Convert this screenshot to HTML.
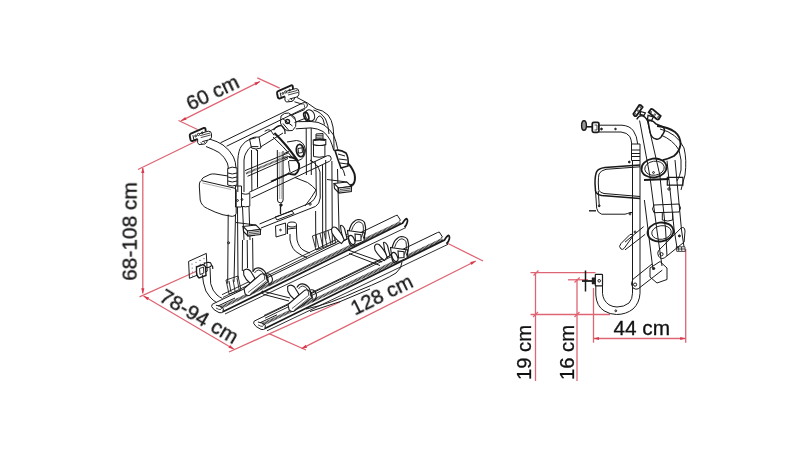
<!DOCTYPE html>
<html><head><meta charset="utf-8"><style>
html,body{margin:0;padding:0;background:#fff;}
svg{display:block;}
text{font-family:"Liberation Sans",sans-serif;font-size:20px;fill:#111;stroke:#111;stroke-width:0.3;}
.r{stroke:#de6573;stroke-width:1.3;fill:none;}
.ra{fill:#d83a4c;stroke:none;}
.k{stroke:#1a1a1a;stroke-width:1;fill:none;}
</style></head><body>
<svg width="800" height="450" viewBox="0 0 800 450">
<g id="dims">
<line class="r" x1="178.5" y1="120.5" x2="197.5" y2="129.5"/>
<line class="r" x1="257.3" y1="77.8" x2="279.7" y2="88.2"/>
<line class="r" x1="181" y1="120.8" x2="260" y2="81.5"/>
<path class="ra" d="M181.0,120.8 L185.2,116.9 L186.6,119.8 Z"/>
<path class="ra" d="M260.0,81.5 L255.8,85.4 L254.4,82.5 Z"/>
<line class="r" x1="142.8" y1="168" x2="142.8" y2="293.5"/>
<line class="r" x1="138" y1="169.5" x2="196.5" y2="141"/>
<line class="r" x1="139.5" y1="296.8" x2="197" y2="271"/>
<path class="ra" d="M142.8,167.5 L144.4,173.0 L141.2,173.0 Z"/>
<path class="ra" d="M142.8,293.8 L141.2,288.3 L144.4,288.3 Z"/>
<line class="r" x1="143.5" y1="296" x2="234" y2="349.2"/>
<path class="ra" d="M143.5,296.0 L149.1,297.4 L147.4,300.2 Z"/>
<path class="ra" d="M234.0,349.2 L228.4,347.8 L230.1,345.0 Z"/>
<line class="r" x1="229" y1="352" x2="340" y2="302"/>
<line class="r" x1="269" y1="333.7" x2="306" y2="350"/>
<line class="r" x1="447" y1="243" x2="483" y2="261"/>
<line class="r" x1="301.5" y1="348.7" x2="475.8" y2="261"/>
<path class="ra" d="M301.5,348.7 L305.7,344.8 L307.1,347.7 Z"/>
<path class="ra" d="M475.8,261.0 L471.6,264.9 L470.2,262.0 Z"/>
<line class="r" x1="530.5" y1="272.7" x2="595.5" y2="272.7"/>
<line class="r" x1="568" y1="279.8" x2="588" y2="279.8"/>
<line class="r" x1="530.5" y1="314.5" x2="610" y2="314.5"/>
<line class="r" x1="535.5" y1="272" x2="535.5" y2="381"/>
<line class="r" x1="577" y1="279" x2="577" y2="381"/>
<line class="r" x1="593.5" y1="288" x2="593.5" y2="342.7"/>
<line class="r" x1="685.7" y1="249" x2="685.7" y2="342.7"/>
<line class="r" x1="593.5" y1="338.5" x2="685.7" y2="338.5"/>
<path class="ra" d="M593.5,338.5 L599.0,336.9 L599.0,340.1 Z"/>
<path class="ra" d="M685.7,338.5 L680.2,340.1 L680.2,336.9 Z"/>
<line class="r" x1="533.5" y1="275.5" x2="538.5" y2="270.5"/>
<line class="r" x1="574.5" y1="282.5" x2="579.7" y2="277.5"/>
<line class="r" x1="533" y1="317" x2="538" y2="312"/>
<line class="r" x1="574.5" y1="317" x2="579.5" y2="312"/>
</g>
<g id="left" class="k">
<!-- plates & clamps (right, and left via translate) -->
<g id="brk">
<path d="M277.6,91.3 L291.2,85.4 Q292.6,85 292.8,86.6 L293,89 M277.6,91.3 Q276.9,92 277.1,93.5 L277.9,97.4 Q278.4,98.8 280.2,98.3 L285,96.4" style="stroke-width:1.9"/>
<path d="M280.2,92.6 L281.3,97.6"/>
<circle cx="282.9" cy="93.4" r="0.9"/><circle cx="285.7" cy="91.9" r="1.1"/><circle cx="289.6" cy="90.1" r="0.8"/>
<path d="M286.6,91.2 L295.6,88.6 Q298.6,88.4 298.8,91.2 L298.8,94.6 Q298.4,96.6 296,97.3 L289.5,99" />
<path d="M287.5,93 L297.5,90.4 M288,95 L298,92.4" style="stroke-width:0.8"/>
<path d="M285,96.6 Q284.2,100.8 286.3,102 L292,101.4 Q294.6,100.2 294.6,97.6"/>
<path d="M288,99.5 L289.5,101.6 M291,98.8 L292.5,100.8" style="stroke-width:0.8"/>
</g>
<use href="#brk" transform="translate(-87.3,42.6)"/>
<!-- left arm -->
<path d="M209.5,139 Q218,141.5 223,145 Q230,150 233.5,157 Q235.8,162 236,168"/>
<path d="M206,146.5 Q214,149.5 219,152.5 Q225,157 227.3,163 Q228.3,166 228.3,169"/>
<!-- top crossbar -->
<path d="M220.5,142.8 L303,102.8 Q307,101.8 307.4,105 Q307.6,107 305.6,107.8 L226.6,146.2"/>
<path d="M303.2,103.5 Q305,105 304.6,107.5" style="stroke-width:0.8"/>
<!-- right arm / outer arc -->
<path d="M297,97.5 Q308,102.5 316,109 Q323,110 328,115 Q332,120 333,127 Q334,134 334,151"/>
<path d="M313.5,110 Q321,112 325.5,119 Q328.5,125 329,134"/>
<path d="M294.5,101.8 Q300,103.5 302.5,104.2"/>
<!-- short bar clamp to cylinder -->
<path d="M292,115 L304.7,109.5 M294.5,122.5 L306,118"/>
<ellipse cx="310" cy="115.4" rx="4.4" ry="5.8" transform="rotate(-28 310 115.4)"/>
<ellipse cx="306.3" cy="116.2" rx="2.2" ry="4.2" transform="rotate(-20 306.3 116.2)" style="stroke-width:1.7"/>
<path d="M315.5,121.5 Q317.5,115.5 320.5,116 Q323.5,118 324.5,124.5"/>
<!-- inner big U-tube -->
<path d="M295.8,121.7 L311,121.5 Q318.5,121.5 324,125 Q330,129 333.5,135 Q336.5,142 337.5,148.3 L338.3,151"/>
<path d="M295.8,128.8 L311,127.9 Q318,128.5 323,131.5 Q327.5,135 330.2,140.1 Q332.3,145 333.6,150"/>
<path d="M335,150.5 Q340,149 346,153 Q349,158 348,166 L341,168 Q338,160 335,150.5 Z" style="stroke-width:1.6"/>
<path d="M338,154 L345,156 M339,159 L347,160 M340,163 L347.5,164"/>
<path d="M347.5,163 Q352,167 354.5,174 Q356,181 353,184.5 Q350,186 346.5,185.5" style="stroke-width:2"/>
<path d="M341,167 Q344,170 345,176" style="stroke-width:1"/>
<!-- clamp on second bar -->
<path d="M281,116 Q284,112.5 288.5,113 L294.5,117 Q296.8,121.5 295.6,126.5 L292.5,130.5 Q287.5,131.8 283.5,128.8 L280.5,123 Z"/>
<path d="M282.5,118.5 L292.5,126 M283,123.5 L288.5,130 M289.5,114 L295,119.5"/>
<circle cx="287.5" cy="121.5" r="2" style="stroke-width:1.4"/>
<!-- vertical middle tube -->
<path d="M306.2,128 L306.4,175 M311.2,128 L311.3,175"/>
<!-- threaded collar -->
<path d="M316,134 L323,133.5 L323,139 M316,134 L316,139.2" style="stroke-width:1"/>
<path d="M316.2,135.5 L322.8,135.2 M316.2,137.2 L322.8,137" style="stroke-width:0.8"/>
<path d="M313.3,140 Q319.5,138 325.8,139.6 L325.8,144.6 Q319.5,146.5 313.3,144.6 Z" style="stroke-width:1.1"/>
<path d="M314,140.2 Q319.5,139 325,140.3" style="stroke-width:1.6"/>
<path d="M313.5,144.8 L313.5,156.5 Q319,158 324.9,156.5 L324.9,144.8"/>
<!-- left inverted U tube -->
<path d="M237.8,192 L237.8,160 Q238.5,150 241.5,146 Q245,141 249.6,139.4 L256,137.7"/>
<path d="M244,192 L244,160 Q244.5,155 246,153 Q248.5,148 251.3,146.6 L258.4,146.6"/>
<path d="M249.5,139 Q254,136.5 259,137 L261,148 Q256,150 251.5,148 Z"/>
<path d="M256,149 L257,151 M251.5,150 L251.9,191 M257.5,150 L257.5,187.5"/>
<!-- second bar -->
<path d="M259,137 L281,125 M260.5,147 L283,133"/>
<!-- left post collar and tube -->
<path d="M241.5,193.5 Q245.5,195 249.8,193.5 L249.8,206.2 Q245.5,207.5 241.5,206.2 Z"/>
<path d="M242.5,207 L244,240 M249,207 L250,240"/>
<!-- hatched middle bar -->
<path d="M245,170.6 L288,153 M247.5,176.3 L288,158.5" />
<path d="M246,173.5 L288,156" style="stroke-width:2;stroke:#333;stroke-dasharray:0.8 0.5"/>
<path d="M284,153.5 L289,151.5 M284,158.5 L289,156.5"/>
<!-- hanging rod -->
<path d="M277.3,150 L277.5,200 A2.8,2.8 0 0 0 283.1,200 L283,151"/>
<path d="M279.2,152 L279.4,199 M281.2,152 L281.3,199" style="stroke-width:0.6;stroke:#777"/>
<path d="M280.5,204 L280.5,214" style="stroke-width:1.3"/>
<circle cx="281" cy="205" r="1.2" style="fill:#222"/>
<!-- strap buckle -->
<path d="M273.5,130 Q277.5,124.5 282,126 Q285.5,128.5 285,134" style="stroke-width:1.3"/>
<path d="M274.4,133 Q286,144 297.6,160.6" style="stroke-width:2.2"/>
<path d="M273,137 Q283,146 292,157"/>
<path d="M289,157 Q296,157 299,164 Q300,171 295,174.5 Q291,175 288,173" style="stroke-width:2"/>
<path d="M288.5,161 Q289,168 290,172"/>
<path d="M264.7,131.3 Q268,129 270,130 Q272,132 274,135.3"/>
<!-- lamp cylinder -->
<path d="M287,142 L296.5,140.5 Q304,141 305.5,150 Q305,159 298,160.6 L289,160.6"/>
<ellipse cx="300.2" cy="150.6" rx="3.8" ry="6.2" transform="rotate(-10 300.2 150.6)" style="stroke-width:1.7"/>
<path d="M298,148.5 L302,147.8 L302.5,152.5 L298.5,153.2 Z"/>
<!-- lower crossbar -->
<path d="M248.8,192.5 L327.5,155.6 Q330.8,155 331.2,158.2 Q331.2,160.6 329.5,161.3 L251.3,198.1"/>
<path d="M271,181.5 L289,173.5" style="stroke-width:1.8"/>
<!-- thin strap going down -->
<path d="M295,177.5 Q301,180 307.5,182.5 Q313,186 316,190 Q312,197 305,206"/>
<!-- lower U frame -->
<path d="M310,160 Q318,164 320,172 L320.2,198 Q319.5,204 315.6,206.4 L261,228"/>
<path d="M315,161 Q316,166 316,172 L316.3,195 Q315,200 310,203 L259.5,224"/>
<circle cx="310.1" cy="204.1" r="1.1"/>
<!-- right vertical tubes -->
<path d="M315.6,211 L315.8,247 M322.5,165 L322.7,247 M325.7,160 L325.9,239 M331.9,161 L332.3,243 M337.5,169 L339.3,240"/>
<!-- pad / lamp housing -->
<path d="M200.4,181.3 Q199.2,182.5 199.3,186 L200.2,200 Q201.5,206 207.4,208.5 Q215,212.5 223,214.8 L232.3,216.4 Q235.8,216.2 236.2,213.5 L236.2,190 Q236,187.8 233,187.8 L201.5,180.6 Q200.8,180.7 200.4,181.3"/>
<path d="M201.5,180 Q202.5,177.5 205,176.8 L210,174.4 Q212,173.7 215,174 L228,176"/>
<path d="M202.5,183 L231,189.5" style="stroke:#888;stroke-width:0.7"/>
<!-- collar below left arm -->
<path d="M227.7,168.5 Q232,166 237,168 L237,185 Q232,187 227.7,185 Z M228,173 Q232,175 237,173 M228,177 Q232,179 237,177 M228,181 Q232,183 237,181"/>
<path d="M235.5,186 L241.5,186 L241.5,207 L235.5,207 Z"/>
<circle cx="237.5" cy="200.5" r="0.9"/><circle cx="242" cy="199.5" r="0.9"/>
<!-- left vertical frame lines -->
<path d="M228.2,214.5 L227.7,283.7 M235.5,214.5 L234,282 M237.5,207 L238,278 M242.5,240 L242.3,271 M247.2,240 L247.5,268 M252.6,238 L253,272"/>
<circle cx="228.6" cy="242.8" r="1"/>
<!-- pedal brackets -->
<g id="pedal">
<path d="M334,183.5 L347,182 L351.5,186.5 L338.5,188 Z" style="stroke-width:1.1;fill:#fff"/>
<path d="M338.5,188 L351.5,186.5 L351.3,191.5 L339,193 Z" style="stroke-width:1.2;fill:#fff"/>
<path d="M334,183.5 L334.5,188.5 L339,193" style="stroke-width:1.1"/>
<path d="M340,189.5 L350.5,188.3 M340,191.2 L350.5,190" style="stroke-width:0.8"/>
<path d="M327,179.5 L347,182" style="stroke-width:1"/>
</g>
<use href="#pedal" transform="translate(-91,43)"/>
<!-- small plate + bar tab -->
<path d="M275,217 L292,211 L294,213.5 L277,220 Z"/>
<path d="M275.5,226 L285.5,223 L286,234 L276,237 Z"/>
<circle cx="280.5" cy="230" r="0.8"/>
<ellipse cx="292" cy="224.5" rx="4.5" ry="2.5"/>
<path d="M287.5,224.5 L287.5,234 M296.5,224.5 L296.5,232 M288,229 L296,228" />
<!-- lower J-loop -->
<path d="M290,234 L290,240 Q292,250 298,253 Q302,256 307,257.5"/>
<path d="M296.5,232 L297,240 Q299,248 304,250.5 Q307,252 310,253"/>
<!-- lower left mount plate -->
<path d="M188.6,261.4 L206.3,253.4 L207.2,271.2 L189.4,278.3 Z"/>
<g style="fill:#444;stroke:none">
<circle cx="192" cy="264" r="0.55"/><circle cx="196" cy="262.2" r="0.55"/><circle cx="200" cy="260.4" r="0.55"/><circle cx="204" cy="258.6" r="0.55"/>
<circle cx="192.2" cy="268" r="0.55"/><circle cx="196.2" cy="266.2" r="0.55"/><circle cx="200.2" cy="264.4" r="0.55"/><circle cx="204.2" cy="262.6" r="0.55"/>
<circle cx="192.4" cy="272" r="0.55"/><circle cx="196.4" cy="270.2" r="0.55"/>
<circle cx="192.6" cy="276" r="0.55"/><circle cx="196.6" cy="274.2" r="0.55"/>
</g>
<ellipse cx="207.6" cy="265" rx="3.8" ry="2.5" transform="rotate(-10 207.6 265)" style="stroke-width:1.1"/>
<path d="M196.5,267 L203,264.5 L205.5,266.5 L206,275.5 L199,278 Q196.5,276 196.5,272 Z" style="stroke-width:1.4;fill:#fff"/>
<path d="M199.5,268.5 L203.5,267 L203.8,273 L200,274.5 Z" style="stroke-width:0.9"/>
<path d="M211.5,265 Q213.2,266.5 212.8,269" style="stroke-width:1.2"/>
<!-- J hook -->
<path d="M202.3,274.5 L203.5,283 Q205,292 210,297 Q213,300.5 216.5,302.5"/>
<path d="M210,267.7 L210.7,283.7 Q212.5,291 217,295 Q219.5,297.2 222.5,298.5"/>
<!-- shoe blocks -->
<path d="M226,280 L238,276 L241,290 L229,294 Z M229,281 L231,292 M233,279.5 L235,291 M237,278 L239,289" style="stroke-width:0.9"/>
<path d="M312.4,236 L332,229 L335.8,243 L316,250 Z M316,235 L319,249 M320,233.5 L323,247.5 M324,232 L327,246 M328,230.5 L331,244.5" style="stroke-width:0.9"/>
<!-- under-ski cross bars -->
<path d="M262,291 L290,298 M264,294.5 L289,301 M262,291 Q261,293 264,294.5"/>
<path d="M348,250 L382,262 M349,253.5 L380,265.5"/>
<!-- hull below ski 2 -->
<path d="M306,309 Q330,304 360,290 Q385,280 396,273 Q402,268 402,262"/>
<path d="M310,311.5 Q340,303 370,289"/>
</g>
<g id="skis" class="k">
<g id="ski1">
<path d="M215.1,302.9 L395.6,215.7 L397.3,215.2 L400.4,220.1 L399.1,221.4"/>
<path d="M218,306 L235,298"/>
<path d="M220.6,307.6 L400.5,222.6" style="stroke-width:3;stroke:#2a2a2a;stroke-dasharray:0.9 0.45"/>
<path d="M222.9,311.8 L402.5,223.2 Q405,219 406.6,218.6 Q408,219.5 407.2,222.5 Q406.5,225.5 404.4,227" style="stroke-width:1.7"/>
<path d="M225,314 L406,227.5" style="stroke-width:0.9"/>
<path d="M215.1,302.9 Q211,304 211.6,306.5 Q213,310 219,312.6 Q221.5,313.2 223,312 L223.4,308.6 Q222,306 215.9,305.2"/>
<path d="M216,308 Q219,310 221,309.5" style="stroke-width:0.8"/>
</g>
<use href="#ski1" transform="translate(42,16.8)"/>
<path d="M222,294.7 L352,231.9 M223,297.4 L352,234.6" style="stroke-width:0.9"/>
<path d="M264,315.5 L394,252.7 M265,318.2 L394,255.4" style="stroke-width:0.9"/>
</g>
<g id="cups" class="k">
<g id="cup1">
<path d="M243.6,270.5 Q247,267.5 250.5,271 L255,278.5 L250.5,283.5 Q246,280.5 243.8,275 Z" style="fill:#fff;stroke-width:1.1"/>
<path d="M244,288.5 L260.8,274.2 Q263.5,272.8 266,275.5 L268,281.8 L249.8,295.2 Q246.5,296.2 245,293.5 Z" style="fill:#fff;stroke-width:1.1"/>
<path d="M248,292.5 L264.5,279.5 M250.5,293.8 L266.5,281" style="stroke-width:0.7"/>
<path d="M252.9,271.5 Q255,267.5 258.5,267.8 Q263,268.5 265.3,272.3 Q267.3,276 267,280.4" style="stroke-width:1.2"/>
<path d="M254.5,273 Q256.5,269.8 258.8,270 Q262,270.8 263.5,273.5 Q265,276.5 264.8,279.5" style="stroke-width:0.9"/>
<path d="M266.5,273.8 Q271.2,273.2 272.5,279 Q272.3,283.5 268.5,285.5" style="stroke-width:1.1"/>
<path d="M267.5,276 L269,284" style="stroke-width:0.8"/>
</g>
<use href="#cup1" transform="translate(44,16)"/>
<g id="cup3">
<path d="M331.5,229.5 Q332.5,226 336,227.5 Q340,231 344.5,239.5 L341.5,243.5 Q336,240 332,233 Z" style="fill:#fff;stroke-width:1.1"/>
<path d="M340.5,225.5 Q342.5,224.5 344.5,228.5 L347,238.5 L344.5,240.5 Q341,234 340.5,225.5 Z" style="fill:#fff;stroke-width:1.1"/>
<path d="M347.5,230.5 L365,233 L364,241 L353,246 Q350,246 349,242 Z" style="fill:#fff;stroke-width:1.1"/>
<ellipse cx="351.8" cy="240" rx="2.6" ry="4.8" transform="rotate(-25 351.8 240)" style="stroke-width:1.2"/>
<path d="M355,234 L361,234.8 L361,240.5 L355.5,241 Z" style="stroke-width:1.1"/>
<path d="M349,231 Q351,224 353,222.5 Q356,219.5 358,219.5 Q363,219.8 364.5,222.5 Q366,227 365.5,231 L363.5,238.5" style="stroke-width:1.2"/>
<path d="M351.5,230.5 Q353,226 355,223.8 Q357,221.8 359,221.8 Q362,222.3 363,224.8 Q363.7,228 363.2,232 L361.5,237.5" style="stroke-width:0.9"/>
</g>
<use href="#cup3" transform="translate(43,17)"/>
</g>
<g id="side" class="k">
<!-- knob & rod -->
<ellipse cx="584" cy="125.5" rx="2.4" ry="4.8" style="fill:#999;stroke-width:1.4"/>
<path d="M586.5,126.8 L592.5,126.8" style="stroke-width:1.6"/>
<rect x="592.3" y="122.3" width="6.6" height="10" rx="1.5" style="stroke-width:1.8"/>
<path d="M594.5,125 L597,125 L597,130 L594.5,130" style="stroke-width:0.8"/>
<!-- horizontal arm -->
<path d="M599,125.2 L622,125.2 Q630,125.8 633.5,131 Q637,136 637.7,144"/>
<path d="M599,132 L621,132 Q627,132.5 629.8,136.5 Q631.5,140 631.7,144"/>
<circle cx="601.5" cy="129" r="0.9" style="fill:#222"/><circle cx="615.5" cy="129" r="0.8" style="fill:#222"/>
<!-- collar -->
<path d="M631.5,144 L640,144 L640,160.5 L631.5,160.5 Z M631.5,150 L640,150 M631.5,153.5 L640,153.5 M631.5,156.5 L640,156.5"/>
<circle cx="629.3" cy="162" r="0.9" style="fill:#222"/>
<!-- vertical hook tube -->
<path d="M632.5,160.5 L632.5,293.3 M640,160.5 L640,293.3"/>
<!-- J hook -->
<path d="M595.8,285 L595.8,295 Q596.5,306 604,310.8 Q610,314.5 616.5,314.5 Q626,314.5 633,309 Q639.5,303 640,293.3"/>
<path d="M602.5,285 L602.5,293.3 Q603,300.5 609,304.8 Q613,307 617,307 Q624,307 629,303 Q632.5,299 632.5,293.3"/>
<circle cx="615.8" cy="310.8" r="0.9"/>
<rect x="595.3" y="274.3" width="7.2" height="11.5" rx="0.6" style="stroke-width:1.2"/>
<circle cx="599.2" cy="280.8" r="1.3"/>
<rect x="591.8" y="277.5" width="3.8" height="6.8" style="fill:#222;stroke:none"/>
<path d="M582,281 L592,281" style="stroke-width:1.8"/>
<path d="M585.5,270.5 L585.5,291.5" style="stroke-width:1.5"/>
<!-- seat tray -->
<path d="M640,165 L605,167.5 Q598,168.5 596.7,171.7 Q595,175 595,183.3 L595.5,191 Q596.5,194.5 601.7,195.5 L640,198.5" style="stroke-width:1.5"/>
<path d="M640,166.8 L606,169.3 Q600.5,170.5 599,174 Q598.3,177 598.3,183 L598.7,190 Q600,192.8 604,193.5 L640,196.5"/>
<path d="M595.5,191 L596.7,208.3 Q597.5,213 601.7,214.2 L625,214.2 Q628,213.5 630,212.5 L632.5,212.5"/>
<path d="M598.3,191 L599.3,207"/>
<circle cx="599.2" cy="205.8" r="0.9"/><circle cx="630" cy="214" r="0.9"/>
<path d="M589,210.8 L596,210.8" style="stroke-width:1.4"/>
<!-- top plates -->
<path d="M633.3,114 L639.3,105 Q640.5,104.3 642.7,107 L636.3,116 Q634.5,116.8 633.3,114 Z" style="stroke-width:1.8"/>
<circle cx="635.4" cy="114.4" r="0.8" style="fill:#fff;stroke-width:0.8"/><circle cx="638" cy="110.6" r="0.8" style="fill:#fff;stroke-width:0.8"/><circle cx="640.4" cy="106.8" r="0.8" style="fill:#fff;stroke-width:0.8"/>
<path d="M648.7,112.3 L650.7,109.3 Q651.5,108.6 653,109.5 L660.7,116 L658.7,119.3 Q657.8,119.8 656.5,119 Z" style="stroke-width:1.8"/>
<circle cx="650.8" cy="112" r="0.8" style="fill:#fff;stroke-width:0.8"/><circle cx="654.8" cy="114.6" r="0.8" style="fill:#fff;stroke-width:0.8"/><circle cx="658.4" cy="117.2" r="0.8" style="fill:#fff;stroke-width:0.8"/>
<path d="M640.7,111.5 L645.3,113 L644,115.5 L640,114.5 Z M648,115.3 L653.3,117 L651.5,120.7 L647.5,119.5 Z" style="stroke-width:1.3"/>
<!-- main post A -->
<path d="M636.7,119.3 Q639,115.5 641.3,115.7 Q645,115.8 648,121.3" style="stroke-width:1.4"/>
<path d="M639.6,120.5 L649.7,175 L656.9,230 L662,266"/>
<path d="M646.8,118 L659.8,175 L665.6,230 L667,256"/>
<path d="M644.4,200 L653,270"/>
<!-- clamp on post -->
<path d="M648,121 Q652,119 656,124 L663,127 Q666,130 663,134 Q660,140 656,139 Q651,138 650,132 Z" style="stroke-width:1.5"/>
<!-- loop tube & strap -->
<path d="M657,126 Q668,127 675,132 Q681,137 680.5,145 Q679,152 674,156 Q668,159 662.7,160.2" style="stroke-width:1.8"/>
<path d="M660,129 Q677,133 684,148 Q687,160 685,175 Q683,182 681,190"/>
<path d="M661,135 Q673,140 679,150 Q682,160 681,170 Q680,176 677,181"/>
<!-- cup loop 1 -->
<ellipse cx="654" cy="168" rx="12.6" ry="9.4" transform="rotate(-8 654 168)" style="stroke-width:1.8"/>
<ellipse cx="654.5" cy="168.2" rx="9.8" ry="7" transform="rotate(-8 654.5 168.2)" style="stroke-width:0.9"/>
<circle cx="653.5" cy="172.5" r="0.9"/>
<path d="M644,180 L669,179" style="stroke-width:1.8"/>
<!-- right post B -->
<path d="M667,160.7 L674.2,230 L677.1,248.3 M675,160 L681.5,230 L684,246.8"/>
<path d="M667.3,177.3 L682.9,177.3 L682.9,185.1 L667.3,185.1 Z" style="stroke-width:1.2"/>
<circle cx="669" cy="189" r="1.2"/>
<path d="M676.3,246.8 L684.9,246.8 L685.3,251.4 L676.8,251.4 Z M678.5,247 L678.8,251 M681.5,247 L681.8,251 M676.5,249 L685,249" style="stroke-width:0.8"/>
<!-- cross bar block -->
<path d="M654,205 L679,204 Q682,208 679,212 L654,212.7 Q651,209 654,205 Z"/>
<path d="M662.3,212.5 L662.3,220 M672.7,212 L672.7,220 M662.3,220 Q668,222 672.7,220"/>
<!-- cup loop 2 -->
<ellipse cx="660.5" cy="232" rx="13" ry="9.4" transform="rotate(-8 660.5 232)" style="stroke-width:1.8"/>
<ellipse cx="661.5" cy="232.5" rx="9.8" ry="6.8" transform="rotate(-8 661.5 232.5)" style="stroke-width:0.9"/>
<!-- strut A -->
<path d="M632.8,279.4 L652.2,263.9 M638.2,288.8 L662.3,270.1"/>
<path d="M632.8,279.4 Q630,284 633,288 Q636,290 638.2,288.8"/>
<circle cx="635.1" cy="284.6" r="1.6"/>
<!-- strut B -->
<path d="M658.4,250.7 L681,228.1 Q684.5,226 685,231 L684.1,242.1 L664.7,257.7 Q661,260 658.5,256 Q657,253 658.4,250.7"/>
<circle cx="661.5" cy="254.2" r="1.6"/>
<!-- foot block -->
<path d="M650,268 L660,261.5 L667,268 L667,279.5 L657,283 L650,277 Z"/>
<circle cx="653.8" cy="268.5" r="1" style="fill:#222"/><circle cx="679.4" cy="235.9" r="1" style="fill:#222"/>
<!-- small stub and crossing lines -->
<path d="M625,242.1 L643.7,226.6 M625,249.9 L645.2,234.3"/>
<circle cx="635.1" cy="232" r="1"/>
<path d="M621,249 Q618,246.5 621,243.5 L630,234.5 Q632.5,233.5 633,236 L624,248.5 Q622.5,250 621,249"/>
</g>

<g id="texts" style="opacity:0.995">
<text style="font-size:20.9px" transform="translate(136.6,280.8) rotate(-90)">68-108 cm</text>
<text style="font-size:20.8px" x="613.4" y="335.1">44 cm</text>
<text style="font-size:20.3px" transform="translate(531,380.1) rotate(-90)">19 cm</text>
<text style="font-size:20.3px" transform="translate(573.8,380.1) rotate(-90)">16 cm</text>
<text style="font-size:20.5px" transform="translate(190.4,111) rotate(-25.8)">60 cm</text>
<text style="font-size:20.2px" transform="translate(355,315.5) rotate(-26.2)">128 cm</text>
<text style="font-size:20.9px" transform="translate(158.1,300.3) rotate(30.5)">78-94 cm</text>
</g>
</svg>
</body></html>
